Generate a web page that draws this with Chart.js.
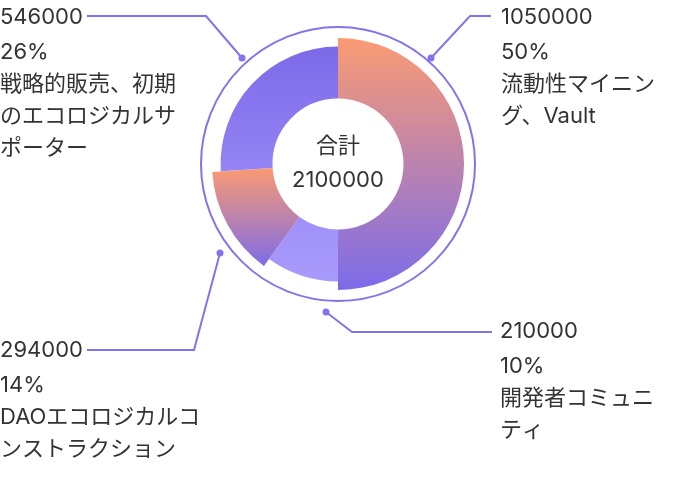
<!DOCTYPE html>
<html>
<head>
<meta charset="utf-8">
<script src="https://cdn.jsdelivr.net/npm/chart.js@4.4.1/dist/chart.umd.min.js"></script>
<style>
  html, body { margin: 0; padding: 0; background: #fff; }
  canvas { display: block; }
</style>
</head>
<body>
<canvas id="tokenChart" width="682" height="482"></canvas>
<script>
// data
const categories = [
    ['流動性マイニン', 'グ、Vault'],
    ['開発者コミュニ', 'ティ'],
    ['DAOエコロジカルコ', 'ンストラクション'],
    ['戦略的販売、初期', 'のエコロジカルサ', 'ポーター'],
];
const values = [1050000, 210000, 294000, 546000];
const totalLabel = '合計';

const total = values.reduce((a, b) => a + b, 0);
const percents = values.map((v) => Math.round((v / total) * 100) + '%');

// styles
const topColors = ['#FB9B73', '#A090F8', '#FA9A72', '#7C6AE8'];
const bottomColors = ['#7C6BE9', '#A99BFB', '#7E6CE6', '#9484F4'];
const radiusScale = [1, 0.932, 1, 0.932];
const OUTER = 126;
const RING = 137;
const ACCENT = '#8473EC';
const TEXT = '#333333';
const FONT = '22px Inter, "Noto Sans CJK JP", sans-serif';

// leader lines, relative to chart centre
const leaders = [
    { dot: [93, -106], elbow: [132, -148], end: [153, -148], textX: 501, y: 17, side: 'right' },
    { dot: [-12, 148], elbow: [14, 168], end: [154, 168], textX: 500, y: 331, side: 'right' },
    { dot: [-118, 89], elbow: [-144, 186], side: 'left', y: 350 },
    { dot: [-96, -106], elbow: [-132, -148], side: 'left', y: 17 },
];

function sectorGradient(context) {
    const chart = context.chart;
    const area = chart.chartArea;
    const i = context.dataIndex;
    if (!area || i === undefined) return topColors[i] || ACCENT;
    const cx = (area.left + area.right) / 2;
    const cy = (area.top + area.bottom) / 2;
    const outer = OUTER * radiusScale[i];
    const inner = OUTER * 0.52;
    let start = -Math.PI / 2;
    for (let k = 0; k < i; k++) start += (values[k] / total) * Math.PI * 2;
    const end = start + (values[i] / total) * Math.PI * 2;
    let minY = Infinity, maxY = -Infinity;
    for (let s = 0; s <= 60; s++) {
        const a = start + ((end - start) * s) / 60;
        [inner, outer].forEach((r) => {
            const y = cy + r * Math.sin(a);
            minY = Math.min(minY, y);
            maxY = Math.max(maxY, y);
        });
    }
    const g = chart.ctx.createLinearGradient(0, minY, 0, maxY);
    g.addColorStop(0, topColors[i]);
    g.addColorStop(1, bottomColors[i]);
    return g;
}

// shrink the plain segments
const sectorRadius = {
    id: 'sectorRadius',
    beforeDatasetsDraw(chart) {
        const meta = chart.getDatasetMeta(0);
        meta.data.forEach((arc, i) => {
            arc.outerRadius = OUTER * radiusScale[i];
        });
    },
};

// ring, leader lines and labels
const annotations = {
    id: 'annotations',
    afterDraw(chart) {
        const { ctx, chartArea } = chart;
        const cx = (chartArea.left + chartArea.right) / 2;
        const cy = (chartArea.top + chartArea.bottom) / 2;
        ctx.save();

        ctx.strokeStyle = ACCENT;
        ctx.lineWidth = 2;
        ctx.beginPath();
        ctx.arc(cx, cy, RING, 0, Math.PI * 2);
        ctx.stroke();

        ctx.font = FONT;
        ctx.textBaseline = 'middle';
        ctx.textAlign = 'left';

        leaders.forEach((l, i) => {
            const lines = [values[i].toString(), percents[i]].concat(categories[i]);
            const ys = lines.map((_, k) => (k === 0 ? l.y : l.y + 35 + (k - 1) * 32));

            let endX;
            if (l.side === 'left') {
                endX = ctx.measureText(lines[0]).width + 4;
            } else {
                endX = cx + l.end[0];
            }

            ctx.strokeStyle = ACCENT;
            ctx.lineWidth = 2;
            ctx.beginPath();
            ctx.moveTo(cx + l.dot[0], cy + l.dot[1]);
            ctx.lineTo(cx + l.elbow[0], cy + l.elbow[1]);
            ctx.lineTo(endX, cy + l.elbow[1]);
            ctx.stroke();

            ctx.fillStyle = ACCENT;
            ctx.beginPath();
            ctx.arc(cx + l.dot[0], cy + l.dot[1], 3.5, 0, Math.PI * 2);
            ctx.fill();

            const tx = l.side === 'left' ? 0 : l.textX;
            ctx.fillStyle = TEXT;
            lines.forEach((t, k) => ctx.fillText(t, tx, ys[k]));
        });

        ctx.textAlign = 'center';
        ctx.fillStyle = TEXT;
        ctx.fillText(totalLabel, cx, cy - 18);
        ctx.fillText(total.toString(), cx, cy + 16);

        ctx.restore();
    },
};

const chart = new Chart(document.getElementById('tokenChart').getContext('2d'), {
    type: 'doughnut',
    data: {
        labels: categories,
        datasets: [
            {
                data: values,
                backgroundColor: sectorGradient,
                borderWidth: 0,
                hoverOffset: 0,
            },
        ],
    },
    options: {
        responsive: false,
        animation: false,
        radius: OUTER,
        cutout: '52%',
        layout: { padding: { left: 0, right: 6, top: 0, bottom: 154 } },
        plugins: {
            legend: { display: false },
            tooltip: { enabled: false },
        },
        events: [],
    },
    plugins: [sectorRadius, annotations],
});
</script>
</body>
</html>
